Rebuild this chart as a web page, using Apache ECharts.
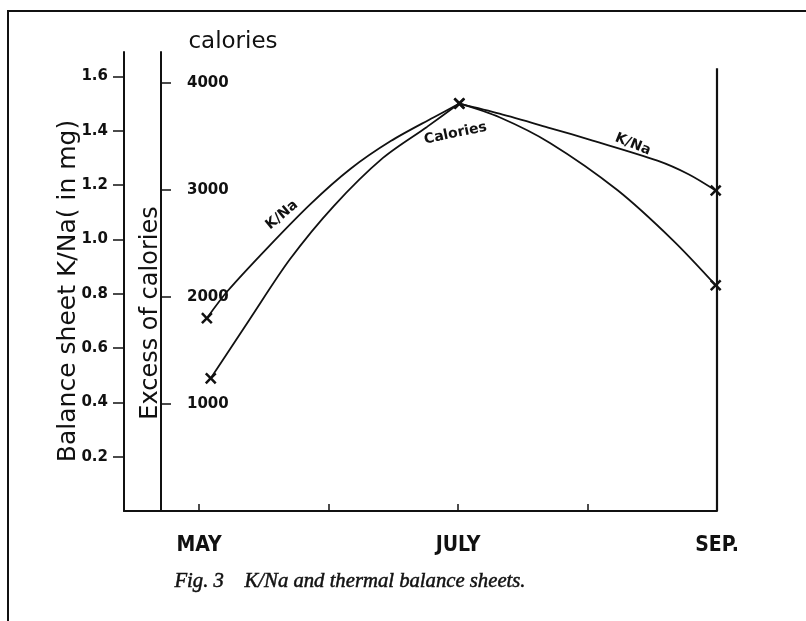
<!DOCTYPE html>
<html>
<head>
<meta charset="utf-8">
<title>K/Na and thermal balance sheets</title>
<script src="https://cdn.jsdelivr.net/npm/echarts@6/dist/echarts.min.js"></script>
<style>
  html, body { margin: 0; padding: 0; background: #fff; }
  #chart { width: 806px; height: 621px; }
</style>
</head>
<body>
<div id="chart"></div>
<script>
// months on the x axis (5 = May ... 9 = Sep)
var monthTicks = [5, 6, 7, 8, 9];
var monthLabels = { 5: 'MAY', 7: 'JULY', 9: 'SEP.' };

// left axis ticks (K/Na) and middle axis ticks (calories)
var knaTicks = [0.2, 0.4, 0.6, 0.8, 1.0, 1.2, 1.4, 1.6];
var calTicks = [1000, 2000, 3000, 4000];

// K/Na curve (rising part, then falling part from the July peak)
var knaUpX = [5.06, 5.22, 5.53, 5.86, 6.17, 6.48, 6.81, 7.01];
var knaUpY = [0.71, 0.81, 0.97, 1.13, 1.26, 1.362, 1.449, 1.50];
var knaDownX = [7.01, 7.32, 7.71, 8.04, 8.54, 8.78, 8.99];
var knaDownY = [1.50, 1.463, 1.41, 1.364, 1.29, 1.24, 1.18];
// calories curve
var calUpX = [5.09, 5.39, 5.70, 6.04, 6.42, 6.76, 7.01];
var calUpY = [1240, 1790, 2350, 2850, 3300, 3590, 3810];
var calDownX = [7.01, 7.32, 7.71, 8.23, 8.66, 8.99];
var calDownY = [3810, 3680, 3440, 3000, 2530, 2110];

// measured points (x marks)
var knaMarkX = [5.06, 7.01, 8.99];
var knaMarkY = [0.71, 1.50, 1.18];
var calMarkX = [5.09, 7.01, 8.99];
var calMarkY = [1240, 3810, 2110];

// curve labels
var noteText = ['K/Na', 'Calories', 'K/Na'];
var noteX = [5.64, 6.98, 8.35];
var noteY = [1.09, 1.39, 1.35];
var noteRot = [40, 12, -22];

function zip(a, b) { return a.map(function (v, i) { return [v, b[i]]; }); }

var ink = '#111';
var crossSym = 'path://M4.1,0H5.9V4.1H10V5.9H5.9V10H4.1V5.9H0V4.1H4.1Z';
var numFont = { color: ink, fontFamily: 'DejaVu Sans', fontWeight: 'bold', fontSize: 15 };

function curve(name, axis, data) {
  return {
    name: name, type: 'line', yAxisIndex: axis, data: data,
    smooth: 0.3, showSymbol: false, lineStyle: { color: ink, width: 1.8 }
  };
}

var chart = echarts.init(document.getElementById('chart'));

var series = [
  curve('K/Na', 0, zip(knaUpX, knaUpY)),
  curve('K/Na', 0, zip(knaDownX, knaDownY)),
  curve('Calories', 1, zip(calUpX, calUpY)),
  curve('Calories', 1, zip(calDownX, calDownY)),
  {
    name: 'K/Na points', type: 'scatter', yAxisIndex: 0, data: zip(knaMarkX, knaMarkY),
    symbol: crossSym, symbolSize: 14, symbolRotate: 45, itemStyle: { color: ink, opacity: 1 },
    markLine: {
      silent: true, symbol: 'none', label: { show: false },
      lineStyle: { color: ink, width: 2.2, type: 'solid' },
      data: [[{ coord: [9, 1.63] }, { coord: [9, 0] }]]
    }
  }, {
    name: 'Calories points', type: 'scatter', yAxisIndex: 1, data: zip(calMarkX, calMarkY),
    symbol: crossSym, symbolSize: 14, symbolRotate: 45, itemStyle: { color: ink, opacity: 1 }
  }, {
    name: 'notes', type: 'scatter', yAxisIndex: 0, symbolSize: 0, silent: true,
    itemStyle: { opacity: 1 },
    data: noteText.map(function (t, i) {
      return { name: t, value: [noteX[i], noteY[i]],
        label: { show: true, position: 'inside', rotate: noteRot[i], formatter: '{b}',
          color: ink, fontFamily: 'DejaVu Sans', fontWeight: 'bold', fontSize: 14 } };
    })
  }
];

var option = {
  backgroundColor: '#fff',
  animation: false,
  grid: { left: 124, top: 52, width: 593, height: 459 },
  xAxis: {
    type: 'value', min: 4.42, max: 9,
    splitLine: { show: false },
    axisLine: { onZero: false, lineStyle: { color: ink, width: 2 } },
    axisTick: { inside: true, length: 7, customValues: monthTicks, lineStyle: { color: ink, width: 1.5 } },
    axisLabel: {
      customValues: [5, 7, 9], margin: 24,
      formatter: function (v) { return monthLabels[Math.round(v)] || ''; },
      color: ink, fontFamily: 'DejaVu Sans Condensed, DejaVu Sans', fontWeight: 'bold', fontSize: 21
    }
  },
  yAxis: [{
    type: 'value', min: 0, max: 1.69, position: 'left',
    splitLine: { show: false },
    axisLine: { show: true, lineStyle: { color: ink, width: 2 } },
    axisTick: { show: true, length: 11, customValues: knaTicks, lineStyle: { color: ink, width: 1.5 } },
    axisLabel: Object.assign({ customValues: knaTicks, margin: 16,
      formatter: function (v) { return v.toFixed(1); } }, numFont)
  }, {
    type: 'value', min: 0, max: 4290, position: 'left', offset: -37,
    splitLine: { show: false },
    axisLine: { show: true, lineStyle: { color: ink, width: 2 } },
    axisTick: { show: true, inside: true, length: 10, customValues: calTicks, lineStyle: { color: ink, width: 1.5 } },
    axisLabel: Object.assign({ customValues: calTicks, inside: true, margin: 26,
      formatter: function (v) { return String(Math.round(v)); } }, numFont)
  }],
  graphic: [
    { type: 'polyline', shape: { points: [[8, 621], [8, 11], [806, 11]] }, style: { stroke: ink, lineWidth: 2, fill: null } },
    { type: 'text', x: 68, y: 291, rotation: Math.PI / 2,
      style: { text: 'Balance sheet K/Na( in mg)', fill: ink, font: '25px "DejaVu Sans"', align: 'center', verticalAlign: 'middle' } },
    { type: 'text', x: 151, y: 313, rotation: Math.PI / 2,
      style: { text: 'Excess of calories', fill: ink, font: '24px "DejaVu Sans"', align: 'center', verticalAlign: 'middle' } },
    { type: 'text', x: 233, y: 42,
      style: { text: 'calories', fill: ink, font: '23px "DejaVu Sans"', align: 'center', verticalAlign: 'middle' } },
    { type: 'text', x: 350, y: 582,
      style: { text: 'Fig. 3    K/Na and thermal balance sheets.', fill: ink, stroke: ink, lineWidth: 0.5,
        font: 'italic 20.7px "Liberation Serif"', align: 'center', verticalAlign: 'middle' } }
  ],
  series: series
};

chart.setOption(option);
</script>
</body>
</html>
